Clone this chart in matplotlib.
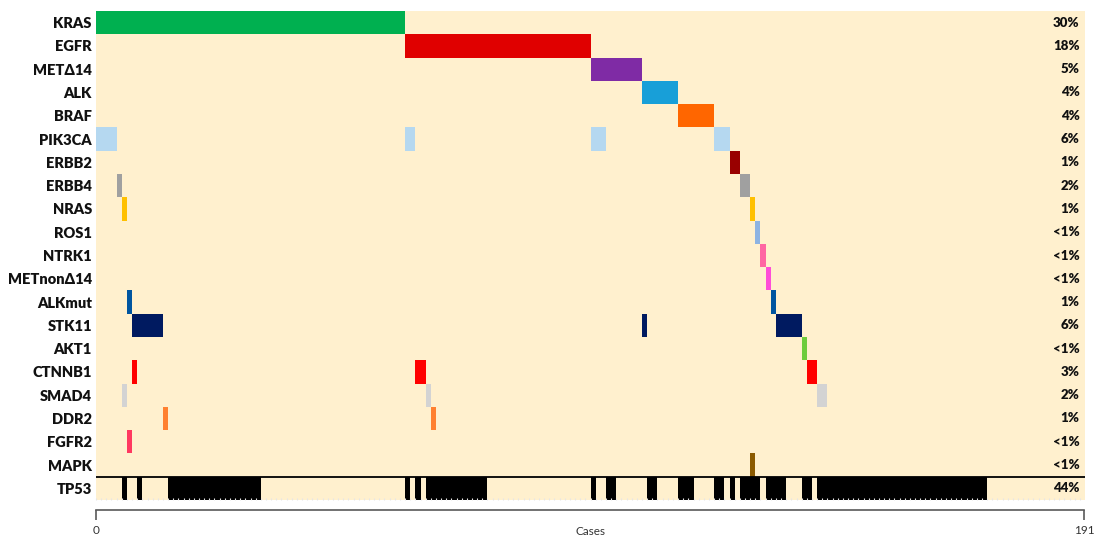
import matplotlib
matplotlib.use("Agg")
import matplotlib.pyplot as plt
import numpy as np

# ---------------- data ----------------
genes = ["KRAS", "EGFR", "METΔ14", "ALK", "BRAF", "PIK3CA", "ERBB2", "ERBB4", "NRAS",
         "ROS1", "NTRK1", "METnonΔ14", "ALKmut", "STK11", "AKT1", "CTNNB1", "SMAD4",
         "DDR2", "FGFR2", "MAPK", "TP53"]
pct_labels = ["30%", "18%", "5%", "4%", "4%", "6%", "1%", "2%", "1%", "<1%", "<1%", "<1%",
              "1%", "6%", "<1%", "3%", "2%", "1%", "<1%", "<1%", "44%"]
colors = ["#00B050", "#E00000", "#7F2BA5", "#189FD8", "#FF6600", "#B5D8F0", "#990000",
          "#A0A0A0", "#FFC000", "#8DB3E2", "#FF66A3", "#FF4DD8", "#0055A0", "#001A60",
          "#6ECC3E", "#FF0000", "#D3D3D3", "#FF8030", "#FF3860", "#8B5A00", "#000000"]

# altered cases per gene as (first case, number of consecutive cases)
KRAS = [(0, 60)]
EGFR = [(60, 36)]
MET_D14 = [(96, 10)]
ALK = [(106, 7)]
BRAF = [(113, 7)]
PIK3CA = [(0, 4), (60, 2), (96, 3), (120, 3)]
ERBB2 = [(123, 2)]
ERBB4 = [(4, 1), (125, 2)]
NRAS = [(5, 1), (127, 1)]
ROS1 = [(128, 1)]
NTRK1 = [(129, 1)]
MET_NON = [(130, 1)]
ALKMUT = [(6, 1), (131, 1)]
STK11 = [(7, 6), (106, 1), (132, 5)]
AKT1 = [(137, 1)]
CTNNB1 = [(7, 1), (62, 2), (138, 2)]
SMAD4 = [(5, 1), (64, 1), (140, 2)]
DDR2 = [(13, 1), (65, 1)]
FGFR2 = [(6, 1)]
MAPK = [(127, 1)]
TP53 = [(5, 1), (8, 1), (14, 18), (60, 1), (62, 1), (64, 12), (96, 1), (99, 2), (107, 2),
        (113, 3), (120, 2), (123, 1), (125, 4), (130, 4), (137, 2), (140, 33)]

alterations = [KRAS, EGFR, MET_D14, ALK, BRAF, PIK3CA, ERBB2, ERBB4, NRAS, ROS1, NTRK1,
               MET_NON, ALKMUT, STK11, AKT1, CTNNB1, SMAD4, DDR2, FGFR2, MAPK, TP53]
n_cases_axis = 191
# ---------------------------------------

W, H = 1095, 538
fig = plt.figure(figsize=(W / 100, H / 100), dpi=100)
fam = ["Lato", "DejaVu Sans"]

left, right, top, bottom = 96, 1085, 11, 500
ax = fig.add_axes([left / W, 1 - bottom / H, (right - left) / W, (bottom - top) / H])
ax.set_facecolor("#FFF0CE")
n = len(genes)
for i, (runs, c) in enumerate(zip(alterations, colors)):
    ax.broken_barh(runs, (i, 1), facecolors=c, linewidth=0)

ax.set_xlim(0, n_cases_axis + 1)
ax.set_ylim(n, 0)
ax.axhline(n - 1, color="black", lw=1.3)
for s in ax.spines.values():
    s.set_visible(False)

ax.set_yticks(np.arange(n) + 0.5)
ax.set_yticklabels(genes, fontfamily=fam, fontweight="heavy", fontsize=10.5, color="#111111")
ax.tick_params(axis="y", length=0, pad=3)
ax.set_xticks(np.arange(0, n_cases_axis + 1))
ax.tick_params(axis="x", direction="in", length=1.5, width=0.8, color="#E6E6E6",
               labelbottom=False)

for i, p in enumerate(pct_labels):
    ax.annotate(p, xy=(1, i + 0.5), xycoords=("axes fraction", "data"),
                xytext=(-4, 0), textcoords="offset points", ha="right", va="center",
                fontfamily=fam, fontweight="heavy", fontsize=9.5, color="#111111")

# bottom "Cases" axis
ax2 = fig.add_axes([96 / W, 1 - 510 / H, (1084 - 96) / W, 0.0001])
ax2.set_xlim(0, n_cases_axis)
for k in ["left", "right", "top"]:
    ax2.spines[k].set_visible(False)
ax2.spines["bottom"].set_color("#595959")
ax2.spines["bottom"].set_linewidth(1.2)
ax2.set_yticks([])
ax2.set_xticks([0, n_cases_axis])
ax2.set_xticklabels(["0", str(n_cases_axis)], fontfamily=fam, fontsize=8.5, color="#333333")
ax2.tick_params(axis="x", direction="out", length=7, width=1.2, color="#595959", pad=4)
ax2.annotate("Cases", xy=(0.5, 0), xycoords="axes fraction", xytext=(0, -11.5),
             textcoords="offset points", ha="center", va="top", fontfamily=fam,
             fontsize=8.5, color="#333333")

fig.savefig("out.png", dpi=100)
